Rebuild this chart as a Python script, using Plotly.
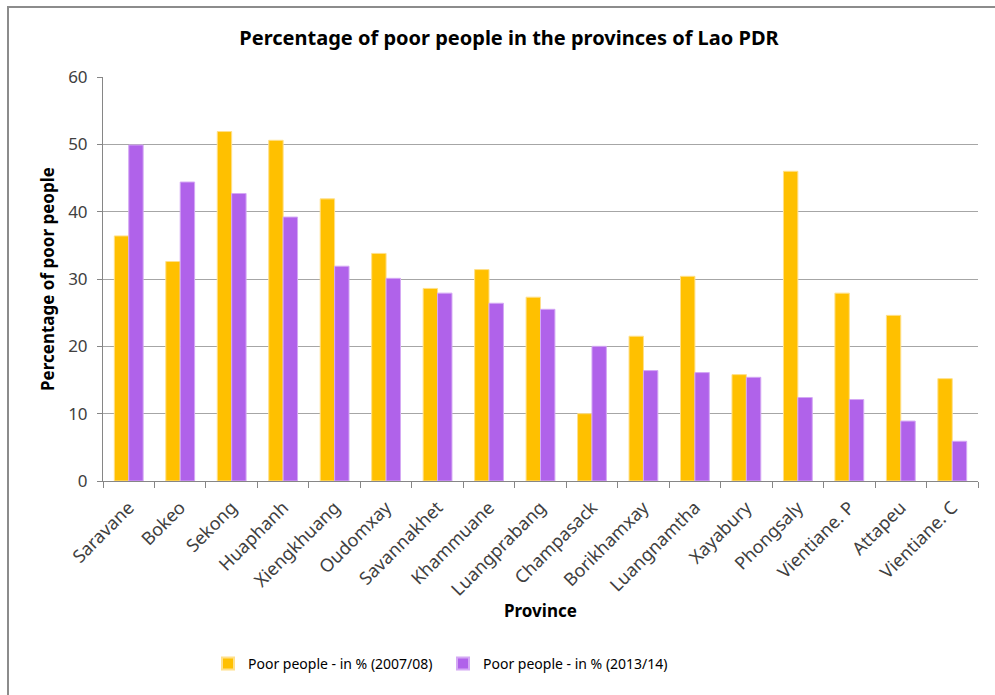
import plotly.graph_objects as go

provinces = ["Saravane", "Bokeo", "Sekong", "Huaphanh", "Xiengkhuang", "Oudomxay",
             "Savannakhet", "Khammuane", "Luangprabang", "Champasack", "Borikhamxay",
             "Luangnamtha", "Xayabury", "Phongsaly", "Vientiane. P", "Attapeu", "Vientiane. C"]
poor_2007 = [36.4, 32.6, 51.9, 50.6, 41.9, 33.8, 28.6, 31.4, 27.3, 10.0, 21.5, 30.4, 15.8, 46.0, 27.9, 24.6, 15.2]
poor_2013 = [49.9, 44.4, 42.7, 39.2, 31.9, 30.1, 27.9, 26.4, 25.5, 20.0, 16.4, 16.1, 15.4, 12.4, 12.1, 8.9, 5.9]
series_names = ["Poor people - in % (2007/08)", "Poor people - in % (2013/14)"]
y_ticks = [0, 10, 20, 30, 40, 50, 60]

FONT = "Noto Sans, sans-serif"
W, H = 995, 695
L, R, T, B = 103, 17, 77, 214
pw, ph = W - L - R, H - T - B

def px2x(p):
    return (p - L) / pw

def px2y(p):
    return (H - B - p) / ph

fig = go.Figure()
fig.add_trace(go.Bar(x=provinces, y=poor_2007, name=series_names[0],
                     marker=dict(color="#FFC000", line=dict(color="#FFE08A", width=1))))
fig.add_trace(go.Bar(x=provinces, y=poor_2013, name=series_names[1],
                     marker=dict(color="#B062EA", line=dict(color="#D4A8F4", width=1))))

fig.update_layout(
    width=W, height=H,
    margin=dict(l=L, r=R, t=T, b=B),
    plot_bgcolor="white", paper_bgcolor="white",
    bargap=0.44, bargroupgap=0,
    font=dict(family=FONT, color="#404040"),
    title=dict(text="<b>Percentage of poor people in the provinces of Lao PDR</b>",
               x=509 / W, xref="container", xanchor="center",
               y=1 - 38 / H, yref="container", yanchor="middle",
               font=dict(family=FONT, size=20, color="#000000")),
    showlegend=True,
    legend=dict(orientation="h", x=px2x(208), y=px2y(664), xref="paper", yref="paper",
                xanchor="left", yanchor="middle",
                font=dict(family=FONT, size=14, color="#000000"),
                itemsizing="constant", entrywidth=190, entrywidthmode="pixels"),
)

fig.update_yaxes(range=[0, 60], tickvals=y_ticks, showgrid=True, gridcolor="#A6A6A6", gridwidth=1,
                 showline=True, linecolor="#868686", linewidth=1,
                 ticks="outside", ticklen=5, tickcolor="#868686", ticklabelstandoff=6,
                 tickfont=dict(family=FONT, size=17, color="#404040"), zeroline=False)
fig.update_xaxes(showline=True, linecolor="#868686", linewidth=1,
                 ticks="outside", ticklen=6, tickcolor="#868686", tickson="boundaries",
                 tickangle=-45, ticklabelstandoff=8,
                 tickfont=dict(family=FONT, size=18, color="#404040"))

fig.add_annotation(text="<b>Province</b>", x=px2x(540), y=px2y(610), xref="paper", yref="paper",
                   showarrow=False, xanchor="center", yanchor="middle",
                   font=dict(family=FONT, size=17, color="#000000"))
fig.add_annotation(text="<b>Percentage of poor people</b>", x=px2x(47), y=px2y(279),
                   xref="paper", yref="paper", textangle=-90,
                   showarrow=False, xanchor="center", yanchor="middle",
                   font=dict(family=FONT, size=17, color="#000000"))

# chart area border
fig.add_shape(type="rect", xref="paper", yref="paper",
              x0=px2x(8), x1=px2x(1010), y0=px2y(710), y1=px2y(7),
              line=dict(color="#8C8C8C", width=2), fillcolor="rgba(0,0,0,0)", layer="below")

fig.write_html("out.html")
